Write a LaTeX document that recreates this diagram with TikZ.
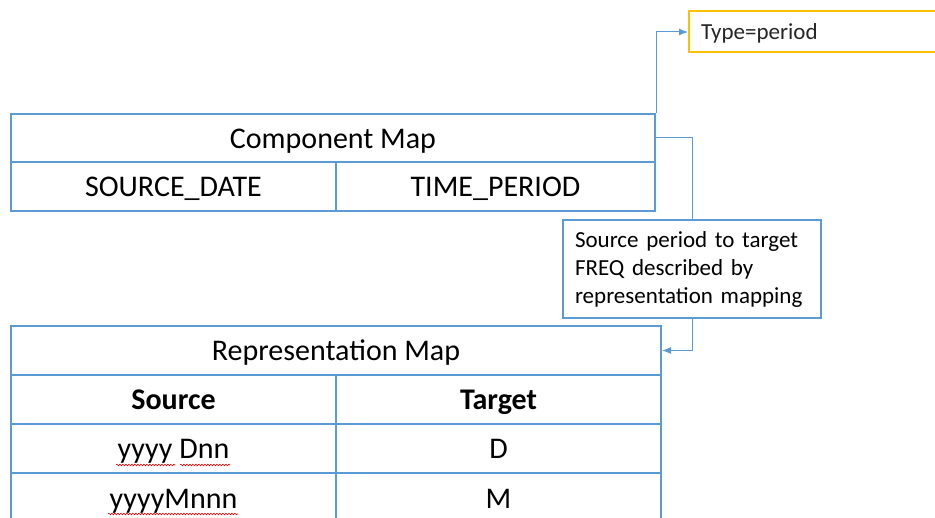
\documentclass[tikz,border=0pt]{standalone}
\usepackage{fontspec}
\setmainfont{Carlito}
\usetikzlibrary{arrows.meta,decorations.pathmorphing}
\definecolor{mapblue}{RGB}{91,155,213}
\definecolor{typeorange}{RGB}{255,192,0}

\begin{document}
\begin{tikzpicture}[>={Latex[length=9pt,width=7pt]}, x=1pt, y=-1pt,
  cell/.style={draw=mapblue, line width=2pt, inner sep=0pt, minimum height=49pt, text height=25pt, text depth=4pt,
               font=\fontsize{30}{36}\selectfont},
  conn/.style={draw=mapblue, line width=1pt},
  squig/.style={red, line width=0.6pt, decorate, decoration={snake, amplitude=0.8pt, segment length=3pt}}]
\useasboundingbox (0,0) rectangle (935,518);
\clip (0,0) rectangle (935,518);

\node[cell, minimum width=644pt, minimum height=48pt] (comp) at (333,138) {Component Map};
\node[cell, minimum width=325pt] (srcdate) at (173.5,186.5) {SOURCE\_DATE};
\node[cell, minimum width=319pt] (timeper) at (495.5,186.5) {TIME\_PERIOD};

\node[draw=typeorange, line width=2pt, anchor=west, text width=240pt, inner xsep=12pt, minimum height=41pt,
      text height=18pt, text depth=2pt, font=\fontsize{23}{28}\selectfont, text=black!85] (type) at (688,32) {Type=period};

\node[draw=mapblue, line width=1.5pt, text width=234pt, inner xsep=12pt, align=left, minimum height=98pt,
      font=\fontsize{23}{28}\selectfont] (note) at (692,269) {Source period to target\\FREQ described by\\representation mapping};

\node[cell, minimum width=650pt] (rep) at (336,350.5) {Representation Map};
\node[cell, minimum width=325pt] (srchead) at (173.5,399.5) {\bfseries Source};
\node[cell, minimum width=325pt] (tgthead) at (498.5,399.5) {\bfseries Target};
\node[cell, minimum width=325pt] (src1) at (173.5,448.5) {yyyy Dnn};
\node[cell, minimum width=325pt] (tgt1) at (498.5,448.5) {D};
\node[cell, minimum width=325pt] (src2) at (173.5,497.5) {yyyyMnnn};
\node[cell, minimum width=325pt] (tgt2) at (498.5,497.5) {M};

\draw[conn, ->] (comp.north east) |- (type.west);
\draw[conn] (comp.east) -| (note.north);
\draw[conn, ->] (note.south) |- (rep.east);

% spell check marks
\draw[squig] (116,465) -- (175,465);
\draw[squig] (180,465) -- (230,465);
\draw[squig] (108,514) -- (238,514);

\end{tikzpicture}
\end{document}
